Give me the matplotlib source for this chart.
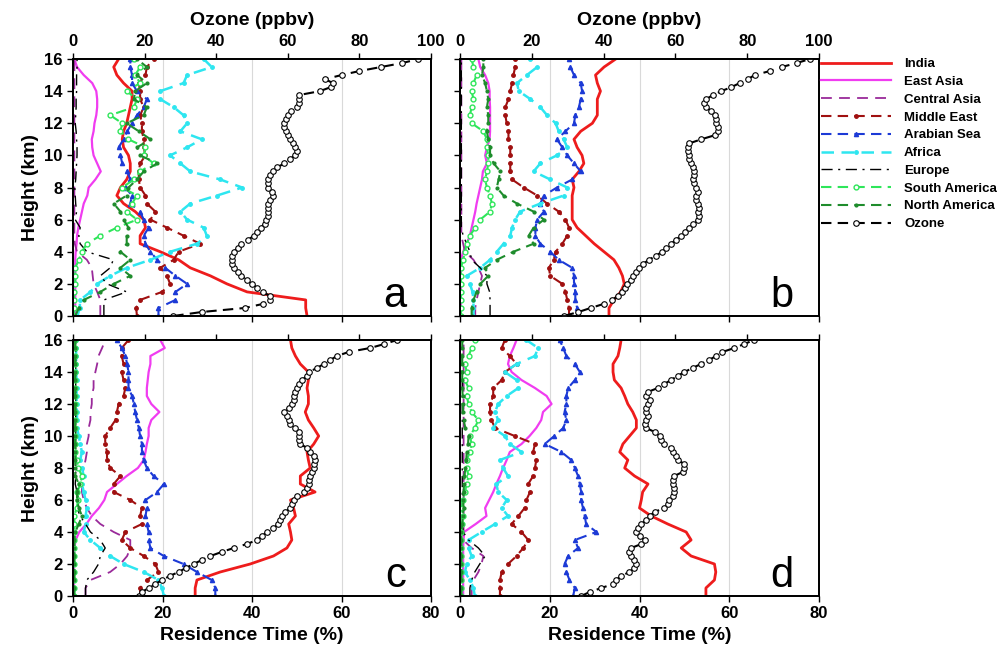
import numpy as np
import matplotlib
matplotlib.use("Agg")
import matplotlib.pyplot as plt
from matplotlib.lines import Line2D

plt.rcParams['font.family'] = ['Liberation Sans', 'DejaVu Sans']

# ---------------- data ----------------
H = np.arange(0, 16.01, 0.5)        # height grid for residence time (km)
H_O3 = np.arange(0, 16.01, 0.25)    # height grid for ozone (km)

# Panel a
a_india = [52.3, 52.0, 52.0, 38.9, 34.4, 30.7, 26.2, 23.6, 19.5, 15.0, 15.0, 16.2, 15.8, 13.9, 11.3, 9.8, 10.6,
           12.0, 12.8, 12.8, 12.4, 11.3, 11.0, 11.3, 12.0, 12.4, 12.8, 13.2, 13.2, 11.3, 9.8, 9.1, 10.2]
a_east = [0.5, 0.5, 0.5, 0.5, 0.5, 0.5, 0.5, 0.5, 0.6, 0.8, 0.9, 1.2, 1.6, 2.0, 2.4, 3.2, 3.5, 5.0, 6.2, 5.4,
          4.6, 4.3, 4.2, 4.6, 4.8, 5.2, 5.4, 5.4, 5.2, 4.3, 2.4, 0.9, 0.3]
a_central = [6.1, 6.1, 6.1, 5.4, 4.6, 4.4, 4.2, 3.1, 0.9, 0.4, 0.3, 0.3, 0.3, 0.3, 0.3, 0.3, 0.3, 0.3, 0.3, 0.3,
             0.3, 0.3, 0.3, 0.3, 0.3, 0.3, 0.3, 0.3, 0.3, 0.3, 0.3, 0.3, 0.3]
a_mideast = [14.3, 14.1, 15.0, 19.9, 21.7, 21.0, 19.5, 22.5, 23.6, 28.4, 24.7, 21.0, 17.3, 18.4, 16.5, 16.2, 15.0,
             14.7, 14.7, 15.0, 16.2, 15.8, 15.8, 15.4, 15.4, 15.0, 15.8, 15.0, 15.0, 14.7, 16.2, 16.5, 18.0]
a_arabian = [19.1, 19.1, 22.9, 22.9, 25.5, 22.9, 20.6, 18.8, 17.3, 16.2, 15.8, 16.9, 15.8, 15.0, 12.8, 13.2, 11.7,
             12.8, 12.1, 11.0, 10.6, 10.2, 11.3, 12.1, 13.2, 14.3, 15.8, 16.5, 14.3, 13.2, 13.2, 12.8, 12.8]
a_africa = [1.0, 1.5, 1.6, 3.9, 5.4, 8.3, 12.0, 17.3, 21.7, 27.7, 29.9, 29.2, 25.5, 24.0, 26.2, 32.2, 37.8, 32.9,
            26.2, 24.0, 21.7, 25.5, 28.8, 24.0, 25.5, 24.7, 22.5, 19.5, 19.5, 24.7, 25.5, 31.0, 29.2]
a_europe = [6.9, 6.9, 6.9, 12.0, 7.6, 6.1, 8.3, 9.0, 3.1, 1.6, 1.3, 1.6, 0.5, 0.8, 0.6, 0.5, 0.4, 0.6, 0.7, 0.8,
            0.9, 0.9, 0.8, 0.7, 0.5, 0.6, 0.7, 0.7, 0.8, 0.8, 0.8, 0.9, 0.9]
a_samerica = [0.2, 0.2, 0.2, 0.2, 0.5, 0.5, 0.5, 1.3, 2.0, 3.1, 6.1, 9.8, 14.3, 12.0, 13.2, 14.3, 11.0, 13.6, 15.0,
              18.0, 15.8, 16.2, 12.4, 10.6, 11.0, 8.3, 13.6, 14.3, 12.0, 15.0, 13.9, 15.0, 13.6]
a_namerica = [0.5, 1.3, 2.4, 6.1, 9.1, 12.8, 10.6, 12.8, 10.6, 12.0, 12.0, 12.4, 11.3, 10.6, 9.1, 12.0, 12.4, 14.3,
              15.8, 18.8, 15.0, 14.3, 17.3, 14.7, 12.0, 15.8, 16.5, 13.6, 13.9, 16.5, 14.3, 16.5, 14.3]
a_ozone = [28, 36, 48, 53, 55, 55, 53, 51.5, 50, 48.5, 47, 46, 45, 44.5, 44.5, 44.5, 45, 46, 47, 49, 50.5, 51.5,
           52.5, 53.5, 54, 54.5, 54.5, 54.5, 54.5, 55, 56, 55.5, 54.5, 54.5, 54.5, 55, 56, 57, 59, 60.5, 62, 62.5,
           62, 61.5, 60.5, 60, 59.5, 59, 59, 59.5, 60, 61, 62.5, 63, 63, 63, 69, 72, 72.5, 70.5, 75, 80, 86, 92, 96.5]

# Panel b
b_india = [33.2, 33.2, 34.3, 35.8, 36.6, 36.2, 35.4, 34.3, 32.1, 29.9, 28.0, 26.1, 25.0, 25.0, 25.0, 25.0, 25.4,
           25.0, 26.5, 27.6, 27.2, 26.1, 25.4, 26.9, 29.5, 30.6, 30.6, 30.6, 31.3, 30.6, 30.2, 32.1, 34.7]
b_east = [0.2, 0.2, 0.2, 0.2, 0.2, 0.2, 0.2, 0.2, 0.7, 1.5, 2.2, 2.6, 3.0, 3.4, 3.7, 4.1, 4.5, 4.9, 5.1, 6.0, 5.6,
          6.0, 6.6, 6.7, 6.7, 6.7, 6.7, 6.6, 6.6, 6.3, 5.6, 4.5, 4.1]
b_central = [3.4, 3.4, 3.7, 4.1, 4.5, 4.9, 4.1, 3.0, 1.1, 0.7, 0.3, 0.3, 0.3, 0.3, 0.3, 0.3, 0.3, 0.3, 0.3, 0.3,
             0.3, 0.3, 0.3, 0.3, 0.3, 0.3, 0.3, 0.3, 0.3, 0.3, 0.3, 0.3, 0.3]
b_mideast = [24.3, 24.3, 23.9, 23.5, 22.8, 20.1, 19.8, 20.9, 21.3, 22.8, 23.9, 24.3, 23.5, 22.0, 19.4, 17.2, 14.2,
             11.6, 11.2, 11.2, 11.2, 11.2, 10.8, 10.8, 10.4, 10.1, 10.1, 10.8, 11.2, 11.6, 11.9, 12.3, 12.3]
b_arabian = [26.1, 26.1, 25.7, 25.7, 25.4, 25.4, 25.0, 22.0, 20.1, 17.9, 16.8, 16.8, 17.2, 18.7, 17.9, 18.7, 21.6,
             25.0, 26.9, 25.4, 23.9, 22.8, 21.6, 23.5, 25.4, 25.7, 26.5, 26.9, 27.2, 26.9, 25.4, 24.6, 24.3]
b_africa = [3.0, 3.0, 3.0, 2.8, 2.2, 1.5, 4.5, 6.7, 8.2, 9.7, 11.2, 11.6, 12.3, 13.4, 17.9, 23.1, 23.9, 20.1, 16.4,
            17.9, 21.6, 23.9, 23.1, 22.0, 21.3, 19.4, 17.9, 15.7, 13.1, 12.7, 14.9, 17.2, 15.7]
b_europe = [6.7, 6.7, 6.7, 6.6, 6.0, 6.0, 4.5, 2.6, 2.2, 1.5, 0.7, 0.3, 0.3, 0.3, 0.3, 0.3, 0.3, 0.3, 0.3, 0.3,
            0.3, 0.3, 0.3, 0.3, 0.3, 0.3, 0.3, 0.3, 0.3, 0.3, 0.3, 0.3, 0.3]
b_samerica = [0.2, 0.2, 0.2, 0.2, 0.2, 0.2, 0.2, 0.7, 1.1, 1.5, 2.2, 3.4, 4.5, 6.7, 7.1, 6.7, 6.0, 5.6, 6.0, 6.3,
              6.3, 6.0, 6.0, 5.2, 2.6, 2.2, 2.6, 3.0, 2.6, 3.0, 3.7, 3.0, 2.6]
b_namerica = [2.6, 2.6, 3.0, 3.7, 4.5, 6.3, 5.6, 8.2, 11.9, 16.4, 15.3, 16.4, 18.7, 16.4, 12.7, 9.7, 8.2, 8.6, 9.0,
              7.5, 6.7, 6.7, 6.3, 6.0, 6.3, 6.3, 6.0, 6.3, 6.0, 5.6, 4.9, 5.2, 5.2]
b_ozone = [28.9, 33, 36.4, 40, 42.4, 44, 45.2, 46, 46.6, 47.5, 48.3, 49, 49.9, 51, 52.7, 54.5, 56.4, 57.5, 58.8,
           60.2, 61.6, 62.8, 63.9, 65, 66.2, 66.7, 66.2, 66.7, 66.2, 65.7, 65.7, 66.2, 65.7, 65.3, 64.8, 65.3, 65.3,
           64.8, 64.4, 63.9, 63.9, 63.4, 63.4, 63.9, 67.2, 70.9, 71.8, 71.8, 71.4, 71.4, 70.9, 70, 68.6, 68.1, 68.6,
           70.4, 72.8, 75.6, 77.9, 80.2, 82.1, 86.3, 89.6, 93.8, 97.5]

# Panel c
c_india = [27.3, 27.3, 27.7, 32.9, 39.6, 44.8, 47.8, 48.9, 48.6, 48.2, 49.7, 49.3, 48.6, 54.1, 50.8, 50.8, 53.0,
           52.6, 52.3, 53.8, 54.9, 53.8, 52.6, 51.9, 52.6, 52.6, 52.3, 52.6, 52.6, 50.8, 49.7, 48.9, 48.6]
c_east = [0.2, 0.2, 0.2, 0.2, 0.2, 0.2, 0.3, 0.6, 1.4, 3.0, 4.2, 5.8, 7.0, 7.6, 9.8, 12.0, 14.5, 15.8, 16.2, 16.5,
          16.9, 16.9, 17.5, 19.3, 17.5, 16.5, 16.5, 16.7, 16.9, 17.3, 17.3, 20.5, 19.5]
c_central = [2.8, 2.8, 3.9, 8.3, 10.6, 12.1, 12.8, 12.8, 9.1, 6.1, 4.2, 3.1, 2.4, 2.0, 2.0, 2.0, 2.4, 2.8, 3.1,
             3.1, 3.5, 3.5, 3.9, 3.9, 4.2, 4.2, 4.6, 4.6, 5.0, 5.4, 5.7, 6.5, 7.2]
c_mideast = [15.0, 15.0, 16.5, 19.1, 18.4, 15.8, 12.8, 10.9, 11.7, 15.4, 15.0, 15.4, 12.8, 9.1, 9.1, 10.6, 8.3,
             7.6, 7.6, 7.2, 7.2, 8.3, 9.5, 9.8, 10.2, 11.3, 11.7, 11.3, 10.9, 11.3, 10.9, 10.9, 12.4]
c_arabian = [31.8, 31.8, 31.0, 27.7, 24.7, 20.3, 17.3, 16.9, 16.9, 16.5, 16.2, 16.5, 16.2, 18.8, 20.3, 18.0, 16.5,
             15.8, 15.4, 15.4, 15.0, 14.7, 14.3, 13.9, 13.6, 13.2, 12.4, 12.4, 12.4, 12.1, 11.7, 10.9, 9.8]
c_africa = [20.3, 19.9, 19.1, 15.8, 11.3, 8.3, 6.1, 3.9, 2.4, 2.8, 2.8, 3.1, 2.8, 2.4, 2.0, 2.4, 2.0, 1.6, 2.0, 1.6,
            1.3, 0.9, 0.9, 0.9, 0.8, 0.8, 0.8, 0.8, 0.7, 0.7, 0.7, 0.7, 0.7]
c_europe = [2.8, 2.8, 3.1, 4.6, 5.7, 6.1, 7.2, 6.1, 3.9, 2.8, 1.6, 0.9, 1.3, 0.9, 0.5, 0.6, 0.6, 0.6, 0.6, 0.6,
            0.6, 0.6, 0.6, 0.6, 0.6, 0.6, 0.6, 0.6, 0.6, 0.6, 0.6, 0.6, 0.6]
c_samerica = [0.3, 0.3, 0.3, 0.3, 0.3, 0.3, 0.3, 0.3, 0.3, 0.3, 0.3, 0.8, 1.2, 1.0, 1.6, 2.0, 1.2, 0.8, 0.4, 0.4,
              0.4, 0.4, 0.4, 0.4, 0.4, 0.4, 0.4, 0.4, 0.4, 0.4, 0.4, 0.4, 0.4]
c_namerica = [0.3, 0.3, 0.3, 0.3, 0.3, 0.3, 0.3, 0.3, 0.5, 1.3, 2.0, 1.3, 0.9, 0.9, 1.3, 0.5, 0.5, 0.5, 0.5, 0.5,
              0.5, 0.5, 0.5, 0.5, 0.5, 0.5, 0.5, 0.5, 0.5, 0.5, 0.5, 0.5, 0.5]
c_ozone = [18.3, 19.3, 21.1, 23, 24.9, 27, 29.5, 31.5, 33.7, 36, 38.4, 41.5, 44.9, 48.6, 51.4, 52.8, 54.2, 56, 57.4,
           57.9, 58.4, 59.3, 60.7, 61.2, 61.6, 62.6, 64.4, 65.4, 65.8, 65.8, 66.3, 66.8, 67.2, 67.2, 67.7, 67.2,
           66.3, 65.4, 63.5, 63, 63, 63, 62.1, 60.7, 60.2, 59.8, 58.8, 60.2, 61.2, 61.6, 61.6, 62.1, 62.6, 63, 63.9,
           65.4, 65.8, 68.2, 70, 71.9, 73.7, 77, 83, 87, 90.5]

# Panel d
d_india = [54.8, 54.8, 56.7, 57.0, 56.7, 51.5, 49.3, 51.5, 50.4, 46.3, 42.6, 40.0, 40.4, 40.7, 41.9, 38.9, 36.7,
           37.4, 35.6, 36.3, 37.8, 39.3, 39.3, 38.5, 37.4, 36.7, 35.9, 34.4, 34.1, 34.1, 35.2, 35.6, 35.9]
d_east = [0.7, 0.7, 0.7, 0.7, 0.7, 0.7, 0.7, 0.8, 0.9, 3.5, 5.9, 5.6, 6.5, 7.4, 8.1, 8.9, 9.6, 10.4, 11.1, 13.7,
          15.5, 17.0, 18.1, 18.5, 20.4, 19.3, 16.7, 13.7, 11.5, 10.7, 11.1, 11.9, 12.6]
d_central = [2.6, 2.6, 3.0, 4.1, 4.8, 5.2, 2.6, 0.7, 0.8, 0.8, 0.8, 0.8, 0.8, 0.8, 0.8, 0.8, 0.8, 0.8, 0.8, 0.8,
             0.8, 0.8, 0.8, 0.8, 0.8, 0.8, 0.8, 0.8, 0.8, 0.8, 0.8, 0.8, 0.8]
d_mideast = [8.9, 8.9, 8.9, 9.3, 10.7, 12.6, 14.1, 15.2, 13.7, 11.5, 13.0, 14.4, 14.8, 15.6, 15.2, 16.3, 16.7,
             17.0, 16.3, 16.7, 12.2, 7.8, 7.0, 6.7, 6.7, 7.4, 7.4, 9.3, 10.0, 12.6, 11.1, 9.3, 10.0]
d_arabian = [25.2, 25.6, 24.4, 23.7, 23.3, 24.1, 26.3, 25.6, 30.4, 28.1, 27.8, 27.4, 27.0, 27.0, 26.7, 26.3, 25.6,
             24.8, 22.6, 18.9, 21.0, 23.0, 23.7, 23.3, 23.7, 23.7, 24.1, 25.6, 26.7, 25.6, 23.7, 23.0, 22.2]
d_africa = [3.3, 3.0, 2.2, 1.1, 1.5, 2.6, 1.9, 1.9, 4.8, 7.8, 10.7, 9.3, 10.4, 8.5, 8.1, 10.7, 9.6, 8.9, 13.7, 11.1,
            10.0, 7.4, 8.5, 7.8, 8.5, 10.4, 13.0, 12.6, 10.0, 12.6, 16.7, 17.4, 14.8]
d_europe = [2.2, 2.2, 2.6, 3.3, 4.4, 5.6, 4.1, 1.9, 0.7, 0.5, 0.5, 0.5, 0.5, 0.5, 0.5, 0.5, 0.5, 0.5, 0.5, 0.5,
            0.5, 0.5, 0.5, 0.5, 0.5, 0.5, 0.5, 0.5, 0.5, 0.5, 0.5, 0.5, 0.5]
d_samerica = [0.3, 0.3, 0.3, 0.3, 0.3, 0.3, 0.3, 0.3, 0.3, 0.5, 0.7, 0.4, 0.7, 1.1, 1.5, 1.9, 1.5, 1.5, 2.2, 2.6,
              2.2, 3.3, 4.1, 2.6, 1.9, 1.5, 1.9, 1.1, 1.5, 1.1, 1.9, 2.6, 3.3]
d_namerica = [0.3, 0.3, 0.3, 0.3, 0.3, 0.3, 0.3, 0.3, 0.3, 0.5, 0.6, 0.8, 0.7, 0.8, 0.9, 1.0, 1.2, 1.4, 1.5, 1.8,
              1.9, 1.2, 0.8, 0.7, 0.6, 0.6, 0.5, 0.5, 0.5, 0.5, 0.5, 0.5, 0.5]
d_ozone = [33.8, 36.1, 39.4, 42.6, 43.5, 44.9, 47.2, 48.6, 49.1, 48.6, 47.7, 47.2, 47.7, 50.5, 51.4, 50, 49.1, 49.5,
           50.5, 51.9, 52.8, 54.2, 56.9, 57.9, 58.3, 59.3, 59.7, 59.7, 59.3, 59.3, 59.7, 62, 62.5, 62.5, 60.6, 60.2,
           59.3, 58.8, 56.9, 56, 55.6, 54.2, 51.9, 51.4, 51.9, 52.3, 51.9, 51.9, 52.3, 52.8, 51.9, 52.3, 55.1, 56.9,
           58.8, 60.6, 62.5, 64.8, 67.1, 69.4, 71.3, 73.1, 76.4, 79.2, 81.9]

region_names = ['India', 'East Asia', 'Central Asia', 'Middle East', 'Arabian Sea', 'Africa', 'Europe',
                'South America', 'North America']
panel_letters = ['a', 'b', 'c', 'd']

panels = [
    [a_india, a_east, a_central, a_mideast, a_arabian, a_africa, a_europe, a_samerica, a_namerica],
    [b_india, b_east, b_central, b_mideast, b_arabian, b_africa, b_europe, b_samerica, b_namerica],
    [c_india, c_east, c_central, c_mideast, c_arabian, c_africa, c_europe, c_samerica, c_namerica],
    [d_india, d_east, d_central, d_mideast, d_arabian, d_africa, d_europe, d_samerica, d_namerica],
]
ozone_profiles = [a_ozone, b_ozone, c_ozone, d_ozone]

# ---------------- styles ----------------
styles = {
    'India': dict(color='#ee1c1c', lw=2.0, ls='-'),
    'East Asia': dict(color='#f03cf0', lw=1.6, ls='-'),
    'Central Asia': dict(color='#9a2a9a', lw=1.3, ls=(0, (6, 4))),
    'Middle East': dict(color='#a01010', lw=1.5, ls=(0, (5, 3)), marker='o', ms=2.5),
    'Arabian Sea': dict(color='#1c3ad6', lw=1.5, ls=(0, (5, 3)), marker='^', ms=3),
    'Africa': dict(color='#2ee6f0', lw=1.8, ls=(0, (5, 3)), marker='o', ms=2.5),
    'Europe': dict(color='black', lw=1.0, ls=(0, (8, 4, 1.5, 4))),
    'South America': dict(color='#2ee65a', lw=1.5, ls=(0, (5, 3)), marker='o', ms=3.5, mfc='white'),
    'North America': dict(color='#1e8c2c', lw=1.5, ls=(0, (5, 3)), marker='o', ms=2),
}
ozone_style = dict(color='black', lw=1.5, ls=(0, (5, 3)), marker='o', ms=4.0, mfc='white', mec='black', mew=0.8)

# ---------------- figure ----------------
W, Hpx = 1008, 656
fig = plt.figure(figsize=(W / 100, Hpx / 100), dpi=100)

boxes = [(73, 59, 431, 316), (460, 59, 819, 316), (73, 340, 431, 596), (460, 340, 819, 596)]

for i, (x0, y0, x1, y1) in enumerate(boxes):
    ax = fig.add_axes([x0 / W, 1 - y1 / Hpx, (x1 - x0) / W, (y1 - y0) / Hpx])
    for xv in [20, 40, 60]:
        ax.axvline(xv, color='#d9d9d9', lw=0.8, zorder=0)
    for name, vals in zip(region_names, panels[i]):
        ax.plot(vals, H, **styles[name])
    ax.set_xlim(0, 80)
    ax.set_ylim(0, 16)
    ax.set_xticks([0, 20, 40, 60, 80])
    ax.set_yticks(np.arange(0, 17, 2))
    ax.tick_params(direction='out', length=4, width=1, labelsize=12)
    for lab in ax.get_xticklabels() + ax.get_yticklabels():
        lab.set_fontweight('bold')
    if i in (1, 3):
        ax.tick_params(labelleft=False)
    else:
        ax.set_ylabel('Height (km)', fontsize=14, fontweight='bold', labelpad=4)
    if i in (0, 1):
        ax.tick_params(labelbottom=False)
    else:
        ax.set_xlabel('Residence Time (%)', fontsize=14, fontweight='bold', labelpad=4)
    for sp in ax.spines.values():
        sp.set_linewidth(1.3)

    ax2 = ax.twiny()
    ax2.plot(ozone_profiles[i], H_O3, **ozone_style)
    ax2.set_xlim(0, 100)
    ax2.set_ylim(0, 16)
    ax2.set_xticks([0, 20, 40, 60, 80, 100])
    ax2.tick_params(direction='out', length=4, width=1, labelsize=12)
    for lab in ax2.get_xticklabels():
        lab.set_fontweight('bold')
    if i in (0, 1):
        ax2.set_xlabel('Ozone (ppbv)', fontsize=14, fontweight='bold', labelpad=6)
    else:
        ax2.tick_params(labeltop=False)
    for sp in ax2.spines.values():
        sp.set_linewidth(1.3)
    ax2.text(0.93, 0.0, panel_letters[i], transform=ax2.transAxes, ha='right', va='bottom',
             fontsize=30)

# legend
handles = [Line2D([], [], **styles[n]) for n in region_names] + [Line2D([], [], **ozone_style)]
labels = region_names + ['Ozone']
fig.legend(handles, labels, loc='upper left', bbox_to_anchor=(821 / W, 1 - 58 / Hpx), frameon=False,
           prop=dict(size=9.5, weight='bold'), handlelength=5.3, handletextpad=1.0, labelspacing=0.42,
           borderaxespad=0, borderpad=0, numpoints=1)

fig.savefig('out.png', dpi=100)
